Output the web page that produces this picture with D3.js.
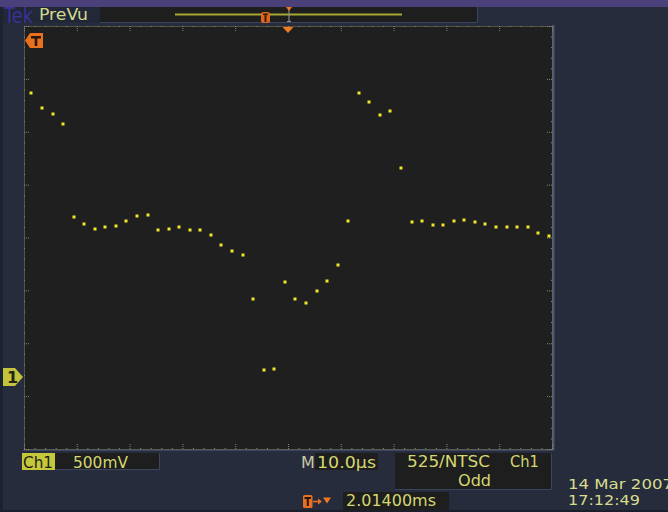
<!DOCTYPE html>
<html>
<head>
<meta charset="utf-8">
<script src="https://cdn.jsdelivr.net/npm/d3@7/dist/d3.min.js"></script>
<style>
  html, body { margin: 0; padding: 0; background: #262c3b; }
  svg { display: block; }
  text { font-family: "DejaVu Sans", sans-serif; }
</style>
</head>
<body>
<script>
// Sample times (µs, relative to the trigger) and the captured Ch1 voltages (V)
const timeUs = [
  -48.6, -46.6, -44.6, -42.6, -40.6, -38.6, -36.6, -34.6, -32.6, -30.6,
  -28.6, -26.6, -24.6, -22.6, -20.6, -18.6, -16.6, -14.6, -12.6, -10.6,
  -8.6, -6.6, -4.6, -2.6, -0.6, 1.4, 3.4, 5.4, 7.4, 9.4,
  11.4, 13.4, 15.4, 17.4, 19.4, 21.4, 23.4, 25.4, 27.4, 29.4,
  31.4, 33.4, 35.4, 37.4, 39.4, 41.4, 43.4, 45.4, 47.4, 49.4
];
const ch1Volts = [
  2.69, 2.54, 2.49, 2.39, 1.51, 1.45, 1.40, 1.42, 1.43, 1.48,
  1.52, 1.53, 1.39, 1.40, 1.42, 1.39, 1.39, 1.34, 1.25, 1.19,
  1.15, 0.74, 0.07, 0.08, 0.90, 0.74, 0.70, 0.81, 0.91, 1.06,
  1.48, 2.69, 2.60, 2.48, 2.52, 1.98, 1.47, 1.48, 1.44, 1.44,
  1.48, 1.49, 1.47, 1.45, 1.42, 1.42, 1.42, 1.42, 1.36, 1.33
];

// Readout strings
const chLabel = "Ch1";
const voltsPerDiv = "500mV";
const timePerDiv = "10.0µs";
const triggerSource = "Ch1";
const videoStandard = "525/NTSC";
const videoField = "Odd";
const triggerDelay = "2.01400ms";
const dateLine = "14 Mar 2007";
const timeLine = "17:12:49";

const W = 668, H = 512;
const plot = { left: 24, right: 552, top: 26, bottom: 449 };
const divsX = 10, divsY = 8;

// Graticule in divisions, data in µs and volts on the same screen area
const gx = d3.scaleLinear().domain([-divsX / 2, divsX / 2]).range([plot.left, plot.right]);
const gy = d3.scaleLinear().domain([-divsY / 2, divsY / 2]).range([plot.bottom, plot.top]);
const x = d3.scaleLinear().domain([-50, 50]).range([plot.left, plot.right]);
const y = d3.scaleLinear().domain([-0.68, 3.32]).range([plot.bottom, plot.top]);

const svg = d3.select("body").append("svg").attr("width", W).attr("height", H);

// Panel background and edges
svg.append("rect").attr("width", W).attr("height", H).attr("fill", "#262c3b");
svg.append("rect").attr("x", 0).attr("y", 0).attr("width", 3).attr("height", H).attr("fill", "#1d2230");
svg.append("rect").attr("x", 0).attr("y", H - 2).attr("width", W).attr("height", 2).attr("fill", "#1b1f2b");
svg.append("rect").attr("x", 0).attr("y", 0).attr("width", W).attr("height", 7).attr("fill", "#4a417a");

// Title strip
svg.append("rect").attr("x", 3).attr("y", 7).attr("width", 97).attr("height", 16).attr("fill", "#222838");
svg.append("text").attr("x", 4).attr("y", 23).attr("font-family", "Liberation Sans")
  .attr("font-size", 21).attr("textLength", 29).attr("lengthAdjust", "spacingAndGlyphs")
  .attr("fill", "#3d3096").text("Tek");
svg.append("text").attr("x", 39).attr("y", 20).attr("font-size", 16)
  .attr("textLength", 49).attr("lengthAdjust", "spacingAndGlyphs")
  .attr("fill", "#d2d98e").text("PreVu");

// Record view bar
svg.append("rect").attr("x", 100).attr("y", 7).attr("width", 378).attr("height", 16)
  .attr("fill", "#1e1e1e");
svg.append("path").attr("d", "M100,22.5H477.5V7").attr("fill", "none").attr("stroke", "#3b4560").attr("stroke-width", 1);
svg.append("line").attr("x1", 175).attr("x2", 402).attr("y1", 14.5).attr("y2", 14.5)
  .attr("stroke", "#a6a834").attr("stroke-width", 2);
svg.append("rect").attr("x", 261).attr("y", 12).attr("width", 9).attr("height", 11).attr("rx", 2.5)
  .attr("fill", "#e0661c");
svg.append("rect").attr("x", 264.5).attr("y", 14).attr("width", 2).attr("height", 8).attr("fill", "#3a1c0a");
svg.append("rect").attr("x", 263).attr("y", 13.5).attr("width", 5).attr("height", 1.5).attr("fill", "#3a1c0a");
// Trigger point cursor in the record view
svg.append("line").attr("x1", 289).attr("x2", 289).attr("y1", 9).attr("y2", 22).attr("stroke", "#9a9a94").attr("stroke-width", 1);
svg.append("line").attr("x1", 287).attr("x2", 291).attr("y1", 21.5).attr("y2", 21.5).attr("stroke", "#9a9a94");
svg.append("path").attr("d", "M286,7H292L289,11Z").attr("fill", "#f07a20");

// Graticule area
svg.append("rect").attr("x", plot.left).attr("y", plot.top)
  .attr("width", plot.right - plot.left).attr("height", plot.bottom - plot.top).attr("fill", "#1f1f1f");
svg.append("line").attr("x1", plot.right + 1.5).attr("x2", plot.right + 1.5)
  .attr("y1", plot.top - 1).attr("y2", plot.bottom + 1).attr("stroke", "#4a5672").attr("stroke-width", 2);
svg.append("line").attr("x1", plot.left - 1).attr("x2", plot.right + 2)
  .attr("y1", plot.bottom + 1.5).attr("y2", plot.bottom + 1.5).attr("stroke", "#3c4660").attr("stroke-width", 1);

const frameColor = "#8a8a6c";
const minorX = d3.range(-25, 26).map(d => d / 5);
const minorY = d3.range(-20, 21).map(d => d / 5);
const isMajor = d => Math.abs(d - Math.round(d)) < 1e-6;

function frameAxis(axis, transform) {
  const g = svg.append("g").attr("transform", transform).call(axis);
  g.select(".domain").attr("stroke", frameColor).attr("stroke-dasharray", "1,1");
  g.selectAll(".tick line").attr("stroke", frameColor).attr("stroke-dasharray", "1,1");
  g.selectAll(".tick text").remove();
  return g;
}
function styleMajor(g) {
  g.selectAll(".tick line").attr("y2", function (d) {
    const v = d3.select(this).attr("y2");
    return v === null ? null : (isMajor(d) ? v * 2.5 : v);
  }).attr("x2", function (d) {
    const v = d3.select(this).attr("x2");
    return v === null ? null : (isMajor(d) ? v * 2.5 : v);
  });
}
const topAx = frameAxis(d3.axisBottom(gx).tickValues(minorX).tickSize(2).tickSizeOuter(0), `translate(0,${plot.top})`);
const botAx = frameAxis(d3.axisTop(gx).tickValues(minorX).tickSize(2).tickSizeOuter(0), `translate(0,${plot.bottom})`);
const leftAx = frameAxis(d3.axisRight(gy).tickValues(minorY).tickSize(2).tickSizeOuter(0), `translate(${plot.left},0)`);
const rightAx = frameAxis(d3.axisLeft(gy).tickValues(minorY).tickSize(2).tickSizeOuter(0), `translate(${plot.right},0)`);
[topAx, botAx, leftAx, rightAx].forEach(g => styleMajor(g));

// Waveform samples
svg.append("g").selectAll("rect").data(timeUs).join("rect")
  .attr("x", (t) => Math.round(x(t)) - 1.5)
  .attr("y", (t, i) => Math.round(y(ch1Volts[i])) - 1.5)
  .attr("width", 3).attr("height", 3)
  .attr("fill", "#f2e82a");

// Trigger position marker (time zero)
const tx = x(0);
svg.append("path").attr("d", `M${tx - 5.5},27H${tx + 5.5}L${tx},33Z`).attr("fill", "#f07a20");

// Trigger level flag on the left
svg.append("path").attr("d", "M25,40.5L30,33H43V48H30Z").attr("fill", "#e8701e");
svg.append("rect").attr("x", 31).attr("y", 36).attr("width", 10).attr("height", 2.5).attr("fill", "#2a1608");
svg.append("rect").attr("x", 34.7).attr("y", 36).attr("width", 2.6).attr("height", 10).attr("fill", "#2a1608");

// Channel 1 ground marker
const gyPos = y(0);
svg.append("path").attr("d", `M3,${gyPos - 9}H15L23,${gyPos}L15,${gyPos + 9}H3Z`).attr("fill", "#c4c43c");
svg.append("text").attr("x", 7).attr("y", gyPos + 6).attr("font-size", 16).attr("font-weight", "bold")
  .attr("fill", "#24240e").text("1");

// Bottom readouts
const textColor = "#d4d870";
svg.append("rect").attr("x", 22).attr("y", 453).attr("width", 33).attr("height", 17).attr("fill", "#c6c83c");
svg.append("text").attr("x", 23).attr("y", 468).attr("font-size", 16)
  .attr("textLength", 30).attr("lengthAdjust", "spacingAndGlyphs")
  .attr("fill", "#1e1e14").text(chLabel);
svg.append("rect").attr("x", 55).attr("y", 453).attr("width", 105).attr("height", 17).attr("fill", "#1e1e1e");
svg.append("path").attr("d", "M55,469.5H159.5V453").attr("fill", "none").attr("stroke", "#3b4560");
svg.append("text").attr("x", 73).attr("y", 468).attr("font-size", 16)
  .attr("textLength", 55).attr("lengthAdjust", "spacingAndGlyphs")
  .attr("fill", textColor).text(voltsPerDiv);

svg.append("text").attr("x", 301).attr("y", 468).attr("font-size", 16).attr("fill", "#c9c9a6").text("M");
svg.append("rect").attr("x", 315).attr("y", 453).attr("width", 63).attr("height", 17).attr("fill", "#1e1e1e");
svg.append("text").attr("x", 317).attr("y", 468).attr("font-size", 16)
  .attr("textLength", 59).attr("lengthAdjust", "spacingAndGlyphs")
  .attr("fill", textColor).text(timePerDiv);

svg.append("rect").attr("x", 395).attr("y", 453).attr("width", 156).attr("height", 37).attr("fill", "#1e1e1e");
svg.append("path").attr("d", "M395,489.5H551.5V453").attr("fill", "none").attr("stroke", "#3b4560");
svg.append("text").attr("x", 407).attr("y", 467).attr("font-size", 16)
  .attr("textLength", 83).attr("lengthAdjust", "spacingAndGlyphs")
  .attr("fill", textColor).text(videoStandard);
svg.append("text").attr("x", 510).attr("y", 467).attr("font-size", 16)
  .attr("textLength", 29).attr("lengthAdjust", "spacingAndGlyphs")
  .attr("fill", textColor).text(triggerSource);
svg.append("text").attr("x", 458).attr("y", 486).attr("font-size", 16)
  .attr("textLength", 33).attr("lengthAdjust", "spacingAndGlyphs")
  .attr("fill", textColor).text(videoField);

// Trigger delay readout
svg.append("rect").attr("x", 303).attr("y", 495).attr("width", 9.5).attr("height", 13).attr("rx", 1.5).attr("fill", "#e8701e");
svg.append("rect").attr("x", 304.5).attr("y", 497).attr("width", 6.5).attr("height", 2).attr("fill", "#2a1608");
svg.append("rect").attr("x", 306.8).attr("y", 497).attr("width", 2).attr("height", 9).attr("fill", "#2a1608");
svg.append("path").attr("d", "M313,501.5H320").attr("stroke", "#e8701e").attr("stroke-width", 1.5);
svg.append("path").attr("d", "M318,498.5L322,501.5L318,504.5Z").attr("fill", "#e8701e");
svg.append("path").attr("d", "M323,497.5H331L327,503.5Z").attr("fill", "#f07a20");
svg.append("rect").attr("x", 343).attr("y", 492).attr("width", 106).attr("height", 18).attr("fill", "#1e1e1e");
svg.append("text").attr("x", 346).attr("y", 506).attr("font-size", 16)
  .attr("textLength", 90).attr("lengthAdjust", "spacingAndGlyphs")
  .attr("fill", textColor).text(triggerDelay);

// Date and time stamp (the year runs past the right edge of the screen)
svg.append("text").attr("x", 568).attr("y", 489).attr("font-size", 14)
  .attr("textLength", 105).attr("lengthAdjust", "spacingAndGlyphs")
  .attr("fill", "#d8dc8e").text(dateLine);
svg.append("text").attr("x", 568).attr("y", 505).attr("font-size", 14)
  .attr("textLength", 72).attr("lengthAdjust", "spacingAndGlyphs")
  .attr("fill", "#d8dc8e").text(timeLine);
</script>
</body>
</html>
